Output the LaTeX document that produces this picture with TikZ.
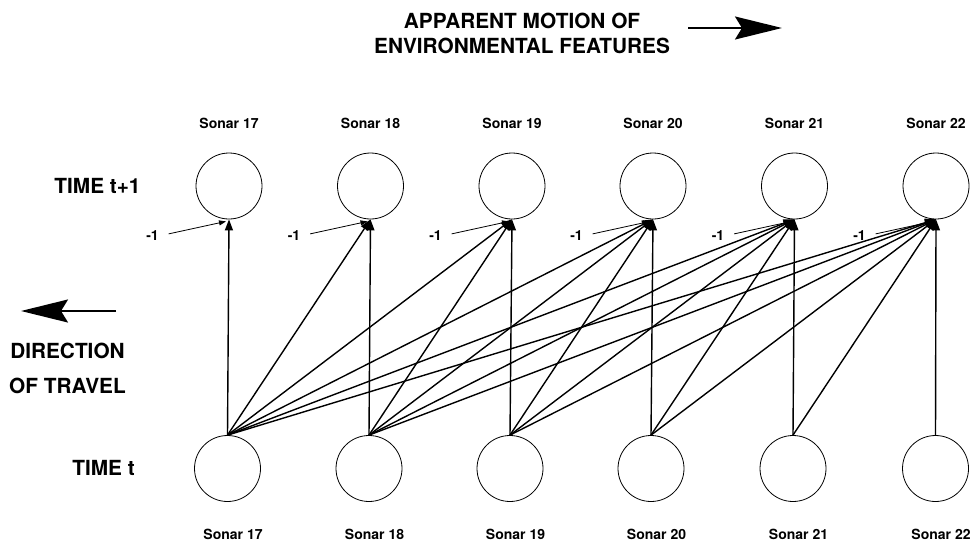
\documentclass[tikz,border=0pt]{standalone}
\usepackage{fontspec}
\setmainfont{TeX Gyre Heros}
\usetikzlibrary{arrows.meta,calc}
\tikzset{
  neuron/.style={circle,draw,line width=0.8pt,minimum size=66pt,inner sep=0pt},
  sonarlab/.style={font=\fontsize{14}{16}\selectfont\bfseries,inner sep=0pt},
  bigtext/.style={font=\fontsize{20.8}{24}\selectfont\bfseries,inner sep=0pt},
  minuslab/.style={font=\fontsize{14}{16}\selectfont\bfseries,inner sep=0pt},
  conn/.style={line width=1.4pt,-{Triangle[length=11pt,width=8pt]}},
  biasconn/.style={line width=0.8pt,-{Triangle[length=7pt,width=5pt]},shorten <=10pt},
  bigarrow/.style={line width=2pt,-{Stealth[length=47pt,width=23pt,inset=7pt]}}
}
\begin{document}
\begin{tikzpicture}[x=1pt,y=-1pt]
\useasboundingbox (0,0) rectangle (971,541);
% title
\node[bigtext] (title1) at (522,21) {APPARENT MOTION OF};
\node[bigtext] (title2) at (522,46) {ENVIRONMENTAL FEATURES};
\coordinate (ra1) at (688,28);
\coordinate (ra2) at (782,28);
\draw[bigarrow] (ra1) -- (ra2);
% left side
\node[bigtext] (timet1) at (97.5,185.5) {TIME t+1};
\node[bigtext] (timet) at (103.5,467.5) {TIME t};
\coordinate (la1) at (116,311);
\coordinate (la2) at (21,311);
\draw[bigarrow] (la1) -- (la2);
\node[bigtext] (dir1) at (67.5,350.5) {DIRECTION};
\node[bigtext] (dir2) at (67.5,386) {OF TRAVEL};
% top layer
\foreach \i/\x in {1/229,2/370.5,3/512,4/653,5/794.5,6/936}{
  \pgfmathtruncatemacro{\n}{16+\i}
  \node[neuron] (t\i) at (\x,186) {};
  \node[sonarlab] (tl\i) at (\x,123) {Sonar \n};
  \node[minuslab] (m\i) at (\x-76.5,236) {-1};
  \coordinate (e\i) at ($(t\i.south)+(-3,2)$);
  \draw[biasconn] (m\i.east) -- (e\i);
}
% bottom layer
\foreach \i/\x in {1/227.5,2/369,3/510,4/651,5/793,6/935.5}{
  \pgfmathtruncatemacro{\n}{16+\i}
  \node[neuron] (b\i) at (\x,468.5) {};
  \node[sonarlab] (bl\i) at (\x+5.5,534) {Sonar \n};
}
% connections
\foreach \i in {1,...,6}{
  \foreach \j in {\i,...,6}{
    \draw[conn] (b\i.north) -- (t\j.south);
  }
}
\end{tikzpicture}
\end{document}
